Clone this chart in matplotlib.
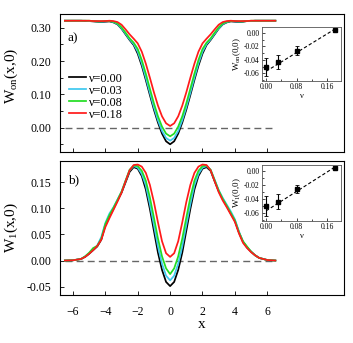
import matplotlib
matplotlib.use("Agg")
import matplotlib.pyplot as plt
from matplotlib.ticker import MultipleLocator

plt.rcParams['font.family'] = ['Liberation Serif', 'DejaVu Serif']
plt.rcParams['mathtext.fontset'] = 'custom'
plt.rcParams['mathtext.rm'] = 'Liberation Serif'
plt.rcParams['mathtext.it'] = 'Liberation Serif:italic'

# shared x grid
x = [-6.5, -6.0, -5.5, -5.25, -5.0, -4.75, -4.5, -4.25, -4.0, -3.75, -3.5, -3.25, -3.0, -2.75,
     -2.5, -2.25, -2.0, -1.75, -1.5, -1.25, -1.0, -0.75, -0.5, -0.25, 0.0,
     0.25, 0.5, 0.75, 1.0, 1.25, 1.5, 1.75, 2.0, 2.25, 2.5, 2.75, 3.0, 3.25, 3.5, 3.75,
     4.0, 4.25, 4.5, 4.75, 5.0, 5.25, 5.5, 6.0, 6.5]

labels = ['ν=0.00', 'ν=0.03', 'ν=0.08', 'ν=0.18']
colors = ['black', '#3ec8f0', '#22dd22', '#ff1a1a']

# W_on(x,0)
won_000 = [0.321, 0.321, 0.321, 0.320, 0.320, 0.319, 0.318, 0.317, 0.318, 0.319, 0.316, 0.310, 0.297, 0.280,
           0.263, 0.248, 0.222, 0.186, 0.143, 0.098, 0.054, 0.015, -0.018, -0.041, -0.050,
           -0.041, -0.018, 0.015, 0.054, 0.098, 0.143, 0.186, 0.222, 0.248, 0.263, 0.280, 0.297, 0.310, 0.316, 0.319,
           0.318, 0.317, 0.318, 0.320, 0.320, 0.321, 0.321, 0.321, 0.321]
won_003 = [0.321, 0.321, 0.321, 0.321, 0.320, 0.320, 0.319, 0.318, 0.319, 0.320, 0.317, 0.311, 0.298, 0.282,
           0.265, 0.251, 0.228, 0.193, 0.150, 0.105, 0.061, 0.022, -0.010, -0.031, -0.039,
           -0.031, -0.010, 0.022, 0.061, 0.105, 0.150, 0.193, 0.228, 0.251, 0.265, 0.282, 0.298, 0.311, 0.317, 0.320,
           0.319, 0.318, 0.319, 0.320, 0.320, 0.321, 0.321, 0.321, 0.321]
won_008 = [0.321, 0.321, 0.321, 0.321, 0.321, 0.320, 0.319, 0.319, 0.320, 0.320, 0.318, 0.313, 0.301, 0.285,
           0.268, 0.255, 0.236, 0.203, 0.162, 0.117, 0.073, 0.034, 0.003, -0.018, -0.026,
           -0.018, 0.003, 0.034, 0.073, 0.117, 0.162, 0.203, 0.236, 0.255, 0.268, 0.285, 0.301, 0.313, 0.318, 0.320,
           0.320, 0.319, 0.319, 0.320, 0.321, 0.321, 0.321, 0.321, 0.321]
won_018 = [0.321, 0.321, 0.321, 0.321, 0.321, 0.320, 0.320, 0.320, 0.320, 0.321, 0.320, 0.317, 0.309, 0.295,
           0.280, 0.267, 0.253, 0.228, 0.192, 0.150, 0.106, 0.066, 0.034, 0.013, 0.005,
           0.013, 0.034, 0.066, 0.106, 0.150, 0.192, 0.228, 0.253, 0.267, 0.280, 0.295, 0.309, 0.317, 0.320, 0.321,
           0.320, 0.320, 0.320, 0.320, 0.321, 0.321, 0.321, 0.321, 0.321]

# W_1(x,0)
w1_000 = [0.000, 0.0005, 0.003, 0.007, 0.013, 0.020, 0.027, 0.040, 0.068, 0.084, 0.099, 0.115, 0.130, 0.150,
          0.170, 0.179, 0.176, 0.162, 0.136, 0.099, 0.057, 0.015, -0.018, -0.041, -0.049,
          -0.041, -0.018, 0.015, 0.057, 0.099, 0.136, 0.162, 0.176, 0.179, 0.172, 0.152, 0.133, 0.118, 0.104, 0.090,
          0.076, 0.054, 0.036, 0.025, 0.017, 0.010, 0.005, 0.001, 0.000]
w1_003 = [0.000, 0.0005, 0.003, 0.008, 0.014, 0.021, 0.029, 0.045, 0.072, 0.090, 0.102, 0.117, 0.132, 0.153,
          0.173, 0.181, 0.178, 0.166, 0.144, 0.108, 0.068, 0.027, -0.006, -0.029, -0.038,
          -0.029, -0.006, 0.027, 0.068, 0.108, 0.144, 0.166, 0.178, 0.181, 0.174, 0.155, 0.135, 0.120, 0.107, 0.094,
          0.079, 0.056, 0.036, 0.025, 0.017, 0.010, 0.005, 0.001, 0.000]
w1_008 = [0.000, 0.0005, 0.003, 0.008, 0.015, 0.024, 0.028, 0.042, 0.070, 0.087, 0.101, 0.116, 0.132, 0.153,
          0.174, 0.182, 0.181, 0.172, 0.153, 0.121, 0.082, 0.042, 0.008, -0.015, -0.026,
          -0.015, 0.008, 0.042, 0.082, 0.121, 0.153, 0.172, 0.181, 0.182, 0.174, 0.154, 0.134, 0.118, 0.105, 0.091,
          0.077, 0.054, 0.037, 0.027, 0.017, 0.010, 0.005, 0.001, 0.000]
w1_018 = [0.000, 0.0005, 0.003, 0.007, 0.013, 0.020, 0.028, 0.040, 0.064, 0.081, 0.097, 0.113, 0.130, 0.152,
          0.173, 0.183, 0.184, 0.180, 0.168, 0.145, 0.112, 0.073, 0.037, 0.014, 0.007,
          0.014, 0.037, 0.073, 0.112, 0.145, 0.168, 0.180, 0.184, 0.183, 0.173, 0.152, 0.131, 0.115, 0.102, 0.088,
          0.074, 0.052, 0.034, 0.024, 0.016, 0.010, 0.005, 0.001, 0.000]

# insets: value at origin vs nu
nu = [0.0, 0.03, 0.08, 0.18]
won0 = [-0.051, -0.043, -0.026, 0.005]
won0_err = [0.0135, 0.0105, 0.006, 0.001]
w10 = [-0.050, -0.044, -0.026, 0.004]
w10_err = [0.015, 0.011, 0.006, 0.001]
fit_nu = [0.0, 0.18]
fit_w = [-0.057, 0.006]

fig = plt.figure(figsize=(3.53, 3.43), dpi=100)
ax1 = fig.add_axes([0.170, 0.557, 0.805, 0.402])
ax2 = fig.add_axes([0.170, 0.140, 0.805, 0.391])
in1 = fig.add_axes([0.742, 0.764, 0.224, 0.157])
in2 = fig.add_axes([0.742, 0.356, 0.224, 0.163])

for ax, series in [(ax1, [won_000, won_003, won_008, won_018]), (ax2, [w1_000, w1_003, w1_008, w1_018])]:
    ax.hlines(0, x[0], x[-1], colors='#666666', linestyles=(0, (5, 3)), linewidth=1.0, zorder=1)
    for y, c, lab in zip(series, colors, labels):
        ax.plot(x, y, color=c, lw=1.25, label=lab, zorder=2)
    ax.set_xlim(-6.8, 10.75)
    ax.tick_params(direction='in', length=3, width=0.6, labelsize=8.5, which='both')
    ax.tick_params(axis='y', pad=6)
    ax.tick_params(axis='x', pad=8)
    ax.tick_params(which='minor', length=2)
    for s in ax.spines.values():
        s.set_linewidth(0.8)

ax1.set_xticks([-6, -4, -2, 0, 2, 4, 6])
ax1.set_xticklabels([])
ax1.set_ylim(-0.073, 0.341)
ax1.yaxis.set_major_locator(MultipleLocator(0.10))
ax1.yaxis.set_minor_locator(MultipleLocator(0.05))
ax1.yaxis.set_major_formatter(plt.FormatStrFormatter('%.2f'))
ax1.set_ylabel(r'W$_{\mathrm{on}}$(x,0)', fontsize=11)
ax1.yaxis.set_label_coords(-0.14, 0.55)
ax1.text(0.028, 0.80, 'a)', transform=ax1.transAxes, fontsize=9.5)
ax1.legend(loc='upper left', bbox_to_anchor=(0.03, 0.575), frameon=False, fontsize=8.8,
           handlelength=1.4, handletextpad=0.2, labelspacing=0.0, borderpad=0, borderaxespad=0)

ax2.set_xticks([-6, -4, -2, 0, 2, 4, 6])
ax2.set_ylim(-0.066, 0.191)
ax2.yaxis.set_major_locator(MultipleLocator(0.05))
ax2.yaxis.set_major_formatter(plt.FormatStrFormatter('%.2f'))
ax2.set_ylabel(r'W$_1$(x,0)', fontsize=11)
ax2.yaxis.set_label_coords(-0.14, 0.5)
ax2.set_xlabel('x', fontsize=11, labelpad=0)
ax2.text(0.028, 0.83, 'b)', transform=ax2.transAxes, fontsize=9.5)

for ax, w, err, lab in [(in1, won0, won0_err, r'W$_{\mathrm{on}}$(0,0)'), (in2, w10, w10_err, r'W$_1$(0,0)')]:
    ax.plot(fit_nu, fit_w, color='black', lw=0.8, ls=(0, (3, 2)))
    ax.errorbar(nu, w, yerr=err, fmt='s', color='black', ms=2.5, elinewidth=0.8, capsize=1.2, capthick=0.6)
    ax.set_xlim(-0.011, 0.196)
    ax.set_ylim(-0.0715, 0.009)
    ax.xaxis.set_major_locator(MultipleLocator(0.08))
    ax.xaxis.set_minor_locator(MultipleLocator(0.04))
    ax.yaxis.set_major_locator(MultipleLocator(0.02))
    ax.yaxis.set_minor_locator(MultipleLocator(0.01))
    ax.xaxis.set_major_formatter(plt.FormatStrFormatter('%.2f'))
    ax.yaxis.set_major_formatter(plt.FormatStrFormatter('%.2f'))
    ax.tick_params(direction='in', length=2, width=0.5, labelsize=5.5, pad=1.5, which='both')
    ax.tick_params(which='minor', length=1.2)
    ax.set_xlabel('ν', fontsize=6, labelpad=0.5)
    ax.set_ylabel(lab, fontsize=6.5, labelpad=1)
    for s in ax.spines.values():
        s.set_linewidth(0.6)
        s.set_color('#555555')

fig.savefig('out.png', dpi=100)
